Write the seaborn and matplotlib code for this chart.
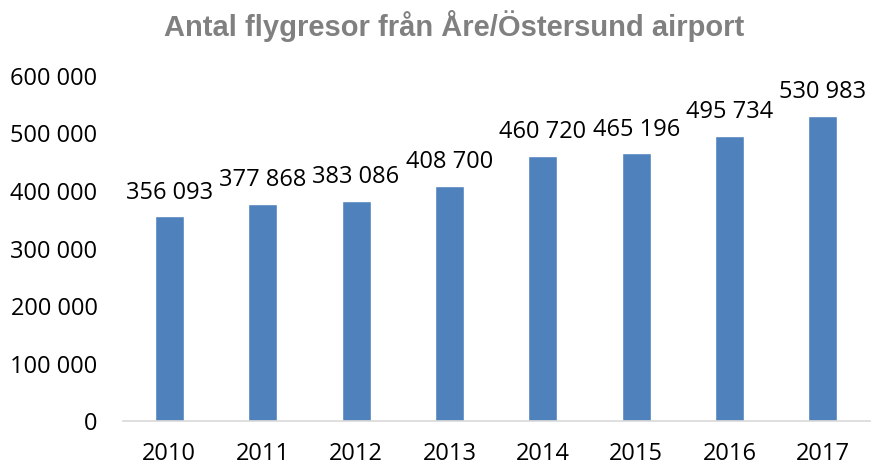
import pandas as pd
import matplotlib.pyplot as plt
import seaborn as sns
from matplotlib.ticker import FuncFormatter

# Data
years = ['2010', '2011', '2012', '2013', '2014', '2015', '2016', '2017']
passengers = [356093, 377868, 383086, 408700, 460720, 465196, 495734, 530983]

df = pd.DataFrame({'year': years, 'passengers': passengers})

sns.set_theme(style='white')
plt.rcParams['font.family'] = ['Open Sans', 'DejaVu Sans']

fig = plt.figure(figsize=(8.82, 4.68), dpi=100)
ax = fig.add_axes([0.139, 0.1, 0.847, 0.738])

sns.barplot(data=df, x='year', y='passengers', color='#4f81bd', width=0.31,
            saturation=1, ax=ax)


def sv_fmt(v, pos=None):
    return f'{int(v):,}'.replace(',', ' ')


for i, v in enumerate(passengers):
    ax.text(i, v + 20000, sv_fmt(v), ha='center', va='bottom',
            fontsize=17, color='black')

ax.set_ylim(0, 600000)
ax.set_xlim(-0.5, len(years) - 0.5)
ax.yaxis.set_major_formatter(FuncFormatter(sv_fmt))
ax.set_yticks(range(0, 600001, 100000))
ax.tick_params(axis='both', labelsize=17, length=0, colors='black')
ax.tick_params(axis='y', pad=18)
ax.tick_params(axis='x', pad=15)
ax.set_xlabel('')
ax.set_ylabel('')

for s in ['top', 'right', 'left']:
    ax.spines[s].set_visible(False)
ax.spines['bottom'].set_color('#d9d9d9')
ax.spines['bottom'].set_linewidth(1.2)

fig.text(0.515, 0.945, 'Antal flygresor från Åre/Östersund airport',
         ha='center', va='center', fontsize=21, fontweight='bold',
         color='#808080', family=['Liberation Sans', 'DejaVu Sans'])

fig.savefig('out.png', dpi=100)
